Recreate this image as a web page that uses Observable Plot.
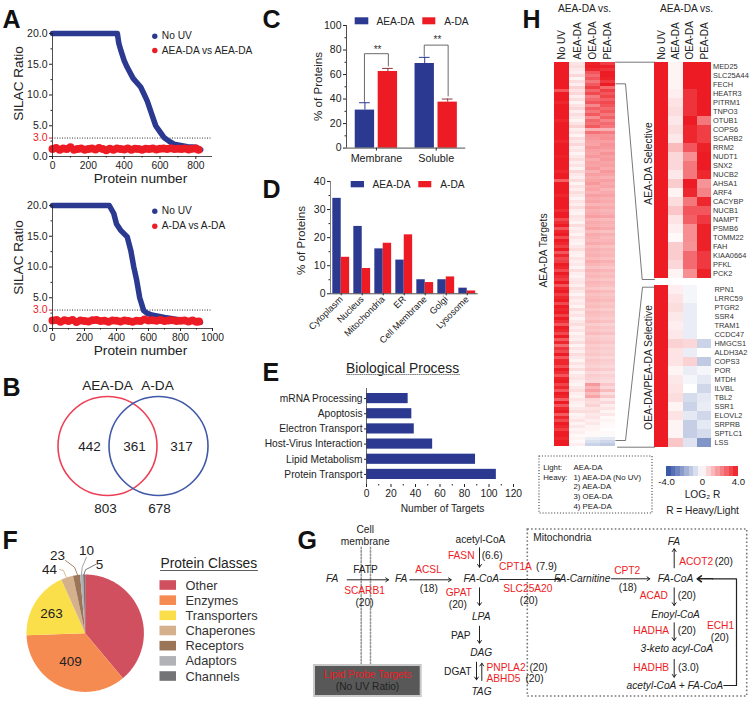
<!DOCTYPE html>
<html><head><meta charset="utf-8">
<script src="https://cdn.jsdelivr.net/npm/d3@7"></script>
<script src="https://cdn.jsdelivr.net/npm/@observablehq/plot@0.6"></script>
<style>html,body{margin:0;padding:0;background:#fff}#page{position:relative;width:750px;height:701px;overflow:hidden}
#page svg,#page svg text{font-family:"Liberation Sans",Arial,sans-serif !important}</style>
</head><body><div id="page"></div>
<script>
// ---------- data ----------
const a1BlueX=[0,100,200,300,362,370,382,400,417,450,492,510,529,550,576,600,622,650,678,715,752,800,827];
const a1BlueY=[20,20,20,20,20,18.4,17.2,15.6,14.5,12.7,11.3,10.2,9,7.2,5,4,3.1,2.5,2,1.8,1.6,1.5,1.1];
const a1RedX=[0,20,40,60,80,100,120,140,160,180,200,220,240,260,280,300,320,340,360,380,400,420,440,460,480,500,520,540,560,580,600,620,640,660,680,700,720,740,760,780,800,815];
const a1RedY=[1.2,1.4,1.1,1.3,1.2,1.5,1.1,1.2,1.3,1.1,1.2,1.3,1.15,1.4,1.2,1.0,1.25,1.1,1.3,1.2,1.15,1.3,1.1,1.25,1.2,1.1,1.25,1.2,1.3,1.15,1.25,1.3,1.2,1.35,1.2,1.25,1.2,1.3,1.15,1.25,1.3,1.1];
const a2BlueX=[0,100,200,300,355,383,400,425,467,490,508,525,545,570,590,620,700,800,925];
const a2BlueY=[20,20,20,20,20,18.7,17,16,14.9,12.6,10,8,5,2.9,2.5,2.2,1.8,1.4,1.0];
const a2RedX=[0,25,50,75,100,125,150,175,200,225,250,275,300,325,350,375,400,425,450,475,500,525,550,575,600,625,650,675,700,725,750,775,800,825,850,875,900,915];
const a2RedY=[1.3,1.4,1.1,1.35,1.2,1.4,1.05,1.3,1.2,1.15,1.35,1.4,1.2,1.25,1.1,1.3,1.25,1.15,1.3,1.2,1.1,1.25,1.2,1.45,1.3,1.35,1.25,1.4,1.2,1.3,1.35,1.2,1.25,1.3,1.15,1.3,1.1,1.15];
const cGroups=["Membrane","Soluble"];
const cSeries=["AEA-DA","A-DA"];
const cMeans=[[31,62.5],[69,37.5]];
const cErrTop=[[37,65],[74,40]];
const dCats=["Cytoplasm","Nucleus","Mitochondria","ER","Cell Membrane","Golgi","Lysosome"];
const dAEA=[34,24,16,12,5,5,2];
const dADA=[13,9,18,21,4,6,1];
const eCats=["mRNA Processing","Apoptosis","Electron Transport","Host-Virus Interaction","Lipid Metabolism","Protein Transport"];
const eVals=[34,37,39,54,89,106];
const vennCounts=["442","361","317"];
const vennTotals=["803","678"];
const pieNames=["Other","Enzymes","Transporters","Chaperones","Receptors","Adaptors","Channels"];
const pieDegrees=[140,128,68,12,7,3,2]; // slice sweep as drawn in the picture
const pieCounts=["","409","263","44","23","10","5"];
const pieColors=["#d0505f","#f68b52","#fbdf4a","#d5b08c","#9a7558","#b0b2b5","#737476"];
const hCols=["No UV","AEA-DA","OEA-DA","PEA-DA"];
const hNoUV=[4,4,4,4,4,4,4,4,4,3,4,4,4,3.8,4,4,
4,4,4,3.8,4,4,4,4,4,4,3.8,4,4,4,4,3.9,
4,4,4,4,3.8,4,4,2.8,4,4,4,4,3.8,4,4,4,
4,3.7,4,4,3.2,3.7,4,3,3.8,4,3.2,4,3.8,3.4,4,3,
3.8,3.2,3.4,4,3.8,3.2,4,3.7,3.4,4,3,3.8,4,3.4,3.8,4,
3.2,4,3.8,4,3.3,4,3.7,3,4,3.8,3.2,4,2.9,3.8,2.6,3.6,
3.2,4,3,3.8,3.8,3.2,4,3.7,3,3.9,4,3.3,3.8,3,4,3.8,
2.8,4,3,3.8,4,2.9,3.8,3.2,4,3.8,3.4,4,4,3.8,4,4];
const hAEA=[.5,.6,.4,.3,.7,.2,.6,.3,.8,.5,.7,.3,.6,.2,.5,.7,
.3,.6,.4,.2,.5,.8,.3,.5,.2,.6,.4,.7,.3,.5,.2,.4,
.6,.3,.5,.2,.7,.4,.3,.6,.2,.5,.3,.6,.4,.2,.5,.3,
.6,.3,.2,.5,.4,.2,.6,.3,.4,.2,.5,.3,.2,.4,.6,.3,
.2,.5,.3,.4,.2,.6,.3,.2,.4,.5,.3,.6,.4,.2,.5,.3,
.4,.2,.6,.3,.5,.2,.4,.6,.3,.5,.2,.4,.3,.6,.2,.5,
.3,.6,.4,.2,.5,.3,.6,.2,.4,.5,.3,.2,.4,.6,.3,.2,
.5,.3,.2,.4,.6,.2,.3,.5,.2,.4,.2,.3,.1,.2,.1,.3];
const hOEA=[3.9,4,3.8,3,2.6,3,2.4,2.9,3.4,2.7,3.2,2.3,2.6,3,2.1,2.8,
2.4,2.9,2,2.7,2.5,2.9,1.4,2.5,1.9,1.8,1.7,1.6,1.9,1.7,1.6,1.8,
1.5,1.7,1.6,1.8,1.4,1.7,1.5,1.6,1.8,1.5,1.6,1.4,1.7,1.5,1.6,1.3,
1.6,1.4,1.5,1.7,1.3,1.5,1.4,1.6,1.2,1.5,1.4,1.3,1.5,1.2,1.4,1.3,
1.4,1.2,1.5,1.3,1.1,1.4,1.2,1.3,1.1,1.3,1.2,1,1.3,1.1,1.2,1.3,
1.1,1.2,1,1.2,1.1,1,1.2,.9,1.1,1,1.2,.9,1,1.1,.9,1,
.9,1,.8,1,.9,.8,1,.7,.9,.8,.7,1.8,1.3,1.7,1.2,1.6,
.7,.6,.8,.5,.6,.4,.5,.3,.4,.2,.2,.1,.1,-.4,-.7,-1];
const hPEA=[3.4,3.9,3.6,4,4,3.9,3.5,4,2.6,3.4,3,3.3,2.8,3.2,3,2.6,
2.9,2.4,2.8,2.2,2.6,2.4,1.4,2.3,1.9,2,1.7,1.9,1.8,1.6,1.9,1.7,
1.8,1.6,1.7,1.5,1.8,1.6,1.4,1.7,1.5,1.6,1.3,1.5,1.6,1.4,1.5,1.3,
1.5,1.3,1.4,1.6,1.2,1.4,1.3,1.5,1.1,1.4,1.2,1.3,1.4,1.1,1.3,1.2,
1.3,1.1,1.4,1.2,1,1.3,1.1,1.2,1,1.2,1.1,.9,1.2,1,1.1,1.2,
1,1.1,.9,1.1,1,.9,1.1,.8,1,.9,1.1,.8,.9,1,.8,.9,
.8,.9,.7,.9,.8,.7,.9,.6,.8,.7,.6,1,.7,1.2,.6,1,
.4,.7,.3,.5,.2,.4,.1,.2,.1,.1,0,.1,-.1,-.5,-.9,-1.2];
const selGenes=["MED25","SLC25A44","FECH","HEATR3","PITRM1","TNPO3","OTUB1","COPS6","SCARB2","RRM2","NUDT1","SNX2","NUCB2","AHSA1","ARF4","CACYBP","NUCB1","NAMPT","PSMB6","TOMM22","FAH","KIAA0664","PFKL","PCK2"];
const selAEA=[.2,.2,.2,.3,.5,.6,.4,.6,.4,1.2,.7,.7,.4,.9,.2,.6,1,.5,.3,.1,.9,.9,.7,.2];
const selOEA=[4,4,4,3.6,3.6,3.6,4,3.8,3.8,3,2,2.4,2.4,4,3.8,2.4,3,2.8,2,2,1.9,2.6,2.6,2];
const selPEA=[4,4,4,4,4,4,2.4,3.4,3.4,3.9,4,4,3.8,1.9,2.2,3.8,3,3.5,3.9,3.9,3.9,3.5,3.5,3.9];
const othGenes=["RPN1","LRRC59","PTGR2","SSR4","TRAM1","CCDC47","HMGCS1","ALDH3A2","COPS3","POR","MTDH","ILVBL","TBL2","SSR1","ELOVL2","SRPRB","SPTLC1","LSS"];
const othAEA=[.3,.5,.6,.4,.3,.4,.8,.5,.5,.2,.4,.5,.6,.2,.5,.2,.2,1];
const othOEA=[-.2,-.2,-.4,-.4,-.4,-.4,.7,-.4,.8,-.4,-.2,0,-.8,-1,-.5,-1.1,-1.1,-.6];
const othPEA=[0,0,0,0,0,0,-1,0,-1.2,-.2,-.5,-.9,-.5,-.4,-.9,-.5,-.8,-2.4];
const rampStops=[-4,-3.5,-3,-2.5,-2,-1.5,-1,-.5,0,.5,1,1.5,2,2.5,3,3.5];

// ---------- shared style ----------
const BLUE="#2b3990",RED="#ed1c24",INK="#222";
const font='"Liberation Sans",Arial,sans-serif';
const host=document.getElementById("page");
const heatColor={type:"linear",domain:[-4,0,4],range:["#2f4ea2","#ffffff","#ed1c24"],clamp:true};
function panel(frame,opts){
  const [l,t,w,h]=frame;
  host.append(Plot.plot({width:w,height:h,marginTop:0,marginRight:0,marginBottom:0,marginLeft:0,
    style:{position:"absolute",left:l+"px",top:t+"px",overflow:"visible",background:"transparent",fontFamily:font,color:INK},...opts}));
}
const axisLine={stroke:INK,strokeWidth:.8};
const fmt1=d=>d.toFixed(1);
const txt=(rows,o={})=>Plot.text(rows,{x:r=>r[1],y:r=>r[2],text:r=>r[0],fontSize:10.2,fill:INK,...o});

// ---------- A ----------
function silac(frame,domainX,ticksX,minorX,blueX,blueY,redX,redY){
  panel(frame,{x:{domain:domainX},y:{domain:[0,20]},marks:[
    Plot.ruleY([3],{stroke:"#333",strokeWidth:1,strokeDasharray:"1,1.5"}),
    Plot.line(blueX.map((x,i)=>({x,y:blueY[i]})),{x:"x",y:"y",stroke:BLUE,strokeWidth:5.5,strokeLinecap:"round",strokeLinejoin:"round"}),
    Plot.dot(redX.map((x,i)=>({x,y:redY[i]})),{x:"x",y:"y",r:4,fill:RED}),
    Plot.ruleX([0],axisLine),Plot.ruleY([0],axisLine),
    Plot.axisX({ticks:ticksX,tickSize:3,tickPadding:2,fontSize:10.3,tickFormat:d=>String(d),label:null}),
    Plot.axisX({ticks:minorX,tickSize:1.5,tickFormat:()=>"",label:null}),
    Plot.axisY({ticks:[0,5,10,15,20],tickSize:3,tickPadding:2,fontSize:10.5,tickFormat:fmt1,label:null}),
    Plot.axisY({ticks:[2.5,7.5,12.5,17.5],tickSize:1.5,tickFormat:()=>"",label:null}),
    Plot.axisY({ticks:[3],tickSize:3,tickPadding:2,fontSize:10.5,tickFormat:fmt1,color:RED,label:null})
  ]});
}
silac([52,32.7,160,123],[0,893],[0,200,400,600,800],[100,300,500,700],a1BlueX,a1BlueY,a1RedX,a1RedY);
silac([52,205,160,123],[0,1000],[0,200,400,600,800,1000],[100,300,500,700,900],a2BlueX,a2BlueY,a2RedX,a2RedY);

// ---------- C ----------
const cRows=cGroups.flatMap((g,gi)=>cSeries.map((s,si)=>({g:gi,off:si?.192:-.192,s,v:cMeans[gi][si],e:cErrTop[gi][si]})));
const cFill=d=>d.s==="A-DA"?RED:BLUE;
panel([345.7,24.7,119.3,122.6],{x:{domain:[-.5,1.495]},y:{domain:[0,100]},color:{type:"identity"},marks:[
  Plot.ruleX(cRows,{x:d=>d.g+d.off,y1:"v",y2:"e",stroke:d=>d.s==="A-DA"?"#8a3a40":BLUE,strokeWidth:1}),
  Plot.ruleY(cRows,{y:"e",x1:d=>d.g+d.off-.09,x2:d=>d.g+d.off+.09,stroke:d=>d.s==="A-DA"?"#8a3a40":BLUE,strokeWidth:1}),
  Plot.rectY(cRows,{x1:d=>d.g+d.off-.162,x2:d=>d.g+d.off+.162,y1:0,y2:"v",fill:cFill}),
  Plot.line([[-.2,38],[-.2,77],[.2,77],[.2,67]],{x:d=>d[0],y:d=>d[1],stroke:"#444",strokeWidth:.8}),
  Plot.line([[.8,75],[.8,84],[1.2,84],[1.2,42.5]],{x:d=>d[0],y:d=>d[1],stroke:"#444",strokeWidth:.8}),
  Plot.text([[0.02,80],[1.02,88]],{x:d=>d[0],y:d=>d[1],text:()=>"**",fontSize:10,fill:"#333"}),
  Plot.ruleX([-.5],axisLine),Plot.ruleY([0],axisLine),
  Plot.axisX({ticks:[0,1],tickSize:3,tickPadding:3,fontSize:10.8,tickFormat:i=>cGroups[i],label:null}),
  Plot.axisY({ticks:[0,20,40,60,80,100],tickSize:3,tickPadding:2,fontSize:10.5,label:null}),
  Plot.axisY({ticks:[10,30,50,70,90],tickSize:1.5,tickFormat:()=>"",label:null})
]});

// ---------- D ----------
const dRows=dCats.flatMap((c,i)=>[{i,s:0,v:dAEA[i]},{i,s:1,v:dADA[i]}]);
panel([330,181,147.7,112.3],{x:{domain:[-.51,6.52]},y:{domain:[0,40]},color:{type:"identity"},marks:[
  Plot.rectY(dRows,{x1:d=>d.i-.4+d.s*.4,x2:d=>d.i+d.s*.4,y1:0,y2:"v",fill:d=>d.s?RED:BLUE}),
  Plot.ruleX([-.51],{stroke:"#666",strokeWidth:.8}),Plot.ruleY([0],axisLine),
  Plot.axisX({ticks:[0,1,2,3,4,5,6],tickSize:2,tickPadding:2,tickRotate:-45,fontSize:9.2,textAnchor:"end",tickFormat:i=>dCats[i],label:null}),
  Plot.axisY({ticks:[0,10,20,30,40],tickSize:3,tickPadding:2,fontSize:10.5,label:null}),
  Plot.axisY({ticks:[5,15,25,35],tickSize:1.5,tickFormat:()=>"",label:null})
]});

// ---------- E ----------
panel([366.3,388,147,96],{x:{domain:[0,120]},y:{domain:eCats,padding:.33,round:false},marks:[
  Plot.barX(eCats.map((c,i)=>({c,v:eVals[i]})),{x:"v",y:"c",fill:BLUE}),
  Plot.ruleX([0],{stroke:"#444",strokeWidth:.8}),Plot.ruleY([0],{stroke:"#999",strokeWidth:1.2}),
  Plot.axisX({ticks:[0,20,40,60,80,100,120],tickSize:3,tickPadding:2,fontSize:10.3,label:null}),
  Plot.axisX({ticks:[10,30,50,70,90,110],tickSize:1.5,tickFormat:()=>"",label:null}),
  Plot.axisY({tickSize:2,tickPadding:2,fontSize:10.2,label:null})
]});

// ---------- F ----------
const piePts=[];let a0=0;
pieNames.forEach((name,k)=>{
  const a1=a0+pieDegrees[k];
  piePts.push({name,x:0,y:0});
  for(let a=a0;a<=a1;a+=Math.min(1,pieDegrees[k]/4)){const t=a*Math.PI/180;piePts.push({name,x:Math.sin(t),y:Math.cos(t)});}
  const t=a1*Math.PI/180;piePts.push({name,x:Math.sin(t),y:Math.cos(t)});
  a0=a1;
});
panel([26,574,117.4,117.4],{x:{domain:[-1,1],axis:null},y:{domain:[-1,1],axis:null},color:{domain:pieNames,range:pieColors},marks:[
  Plot.line(piePts,{x:"x",y:"y",z:"name",fill:"name",stroke:null,curve:"linear"})
]});

// ---------- H ----------
const hRows=hNoUV.flatMap((v,i)=>[[0,v],[1,hAEA[i]],[2,hOEA[i]],[3,hPEA[i]]].map(([c,w])=>({r:i,c:hCols[c],v:w})));
panel([554,62,61.3,384],{x:{domain:hCols,padding:0,round:false},y:{domain:d3.range(hNoUV.length),padding:0,round:false,axis:null},color:heatColor,marks:[
  Plot.cell(hRows,{x:"c",y:"r",fill:"v",shapeRendering:"crispEdges"}),
  Plot.axisX({anchor:"top",tickSize:0,tickPadding:3,tickRotate:-90,fontSize:10,label:null})
]});
const geneRows=(genes,aea,oea,pea)=>genes.flatMap((g,i)=>[[0,4],[1,aea[i]],[2,oea[i]],[3,pea[i]]].map(([c,w])=>({g,c:hCols[c],v:w})));
panel([654.3,62,57,216],{x:{domain:hCols,padding:0,round:false},y:{domain:selGenes,padding:0,round:false},color:heatColor,marks:[
  Plot.cell(geneRows(selGenes,selAEA,selOEA,selPEA),{x:"c",y:"g",fill:"v",shapeRendering:"crispEdges"}),
  Plot.axisX({anchor:"top",tickSize:0,tickPadding:3,tickRotate:-90,fontSize:10,label:null}),
  Plot.axisY({anchor:"right",tickSize:0,tickPadding:1.5,fontSize:7.4,fill:"#333",label:null})
]});
panel([654.3,284.7,57,162],{x:{domain:hCols,padding:0,round:false,axis:null},y:{domain:othGenes,padding:0,round:false},color:heatColor,marks:[
  Plot.cell(geneRows(othGenes,othAEA,othOEA,othPEA),{x:"c",y:"g",fill:"v",shapeRendering:"crispEdges"}),
  Plot.axisY({anchor:"right",tickSize:0,tickPadding:3,fontSize:7.4,fill:"#333",label:null})
]});
panel([666,466,72,9.7],{x:{domain:[-4,4]},y:{domain:[0,1],axis:null},color:heatColor,marks:[
  Plot.rect(rampStops,{x1:d=>d,x2:d=>d+.5,y1:0,y2:1,fill:d=>d+.25,shapeRendering:"crispEdges"}),
  Plot.axisX({ticks:[-4,0,4],tickSize:0,tickPadding:2,fontSize:9.6,tickFormat:d=>d===0?"0":d.toFixed(1),label:null})
]});

// ---------- page overlay: headings, legends, Venn, pathway G ----------
const letters=[["A",2,22],["B",2,390.5],["C",262,22],["D",262,192],["E",262,375],["F",2,543],["G",297,543],["H",522,22]];
const dark=[
 ["No UV",161.3,35.7,{a:"start"}],["AEA-DA vs AEA-DA",161.3,50,{a:"start"}],["No UV",161.3,210.7,{a:"start"}],["A-DA vs A-DA",161.3,225.7,{a:"start"}],
 ["AEA-DA",376,21,{a:"start"}],["A-DA",443.7,21,{a:"start"}],["AEA-DA",372,184,{a:"start"}],["A-DA",439.7,184,{a:"start"}],
 ["Number of Targets",442,508],
 ["LOG₂ R",702,494],["R = Heavy/Light",702,510],
 ["AEA-DA vs.",584,8],["AEA-DA vs.",686,8],
 ["Cell",364.7,529],["membrane",364.7,541.7],["FATP",365,569],["(20)",364,602.7],["(18)",428.3,588],["acetyl-CoA",480,539.3],["(6.6)",491.7,555],["(20)",457.3,604.3],["PAP",460.3,635],["DGAT",457.3,671.3],["(20)",538,667.7],["(20)",534,678.3],
 ["(7.9)",546,566.7],["(20)",528.3,600.7],["(18)",627.3,587.7],["(20)",723.3,561],["(20)",686.3,595.7],["(20)",686.3,630],["(3.0)",688,667],["(20)",719.3,637],["Mitochondria",532.7,537.7,{a:"start"}],
 ["(No UV Ratio)",367,686.7]
];
const keyText=[["Light:",542.7,466.7],["AEA-DA",573,466.7],["Heavy:",542.7,476.5],["1) AEA-DA (No UV)",573,476.5],["2) AEA-DA",573,486.3],["3) OEA-DA",573,496.2],["4) PEA-DA",573,506]];
const ital=[["FA",331.7,578],["FA",400.7,578],["FA-CoA",480.7,578.3],["LPA",480.7,616],["DAG",480.7,652.3],["TAG",481,691.3],["FA-Carnitine",581.7,578.3],["FA-CoA",675,578.3],["FA",673.3,541],["Enoyl-CoA",675,614],["3-keto acyl-CoA",676.3,648.3],["acetyl-CoA + FA-CoA",674.3,685]];
const reds=[["SCARB1",364,590],["ACSL",428,569],["FASN",460.7,555],["GPAT",458.3,592],["PNPLA2",486,667.3,{a:"start"}],["ABHD5",486,678.3,{a:"start"}],["CPT1A",515,566.7],["SLC25A20",527.3,588.3],["CPT2",626.7,570.7],["ACOT2",695.7,561],["ACAD",653.3,595.7],["HADHA",650.7,630.3],["HADHB",650.7,667.3],["ECH1",720,625.3],["Lipid Probe Targets",367,674]];
const arrows=[[346.7,579.3,388,579.3],[409.3,579.3,450.7,579.3],[479,547.3,479,566.7],[479,587.3,479,605],[479,625.7,479,642.7],[476,661.7,476,679.3],[481.3,680,481.3,662.7],[499.3,579,560,579],[611,578.3,649.3,578.3],[673.7,567.3,673.7,548.3],[673.7,587.3,673.7,605],[673.7,622.3,673.7,640],[673.7,659,673.7,676.7]];
const connectors=[[[615,61.7],[654,61.7]],[[615.3,83.3],[625,83.3],[641.7,279],[654,279]],[[615.3,440],[625,440],[642,286.7],[654,286.7]],[[617,446.7],[654,446.7]]];
const leaders=[[[59,569],[63,570],[65.7,576.5],"#d5b08c"],[[65,560],[74,566.7],[77.3,575],"#9a7558"],[[86,556.7],[81.7,566.7],[81,574.3],"#999"],[[95,564],[85,569.3],[83.3,574.3],"#666"]];
const seg=(pts,o)=>Plot.line(pts,{x:d=>d[0],y:d=>d[1],...o});
const legendRows=pieNames.map((n,i)=>({n,c:pieColors[i],y:585+i*15.17}));
const dotRows=[[154.3,35.7,BLUE],[154.3,50,RED],[154.3,210.7,BLUE],[154.3,225.7,RED]];
const swatches=[[354.7,368.3,17.3,24.3,BLUE],[422.3,435.3,17.3,24.3,RED],[350.7,364,181,187.3,BLUE],[418.3,431.3,181,187.3,RED]];
const byAnchor=(rows,o)=>["start","middle"].map(an=>txt(rows.filter(r=>((r[3]&&r[3].a)||"middle")===an),{textAnchor:an,...o}));
host.append(Plot.plot({width:750,height:701,marginTop:0,marginRight:0,marginBottom:0,marginLeft:0,
  x:{domain:[0,750],range:[0,750],axis:null},y:{domain:[0,701],range:[0,701],axis:null},color:{type:"identity"},
  style:{position:"absolute",left:"0",top:"0",background:"transparent",fontFamily:font,color:INK},
  marks:[
  txt([["SILAC Ratio",18.3,83],["SILAC Ratio",18.3,257]],{rotate:-90,fontSize:13.5}),
  txt([["Protein number",140,178],["Protein number",140,350]],{fontSize:13.7}),
  Plot.dot(dotRows,{x:d=>d[0],y:d=>d[1],r:2.7,fill:d=>d[2]}),
  Plot.rect(swatches,{x1:d=>d[0],x2:d=>d[1],y1:d=>d[2],y2:d=>d[3],fill:d=>d[4]}),
  txt([["% of Proteins",318,86],["% of Proteins",300.7,240]],{rotate:-90,fontSize:11.6}),
  txt([["Biological Process",402,368]],{fontSize:13.85}),
  seg([[346,374],[459,374]],{stroke:"#888",strokeWidth:1,strokeDasharray:"1,1.2"}),
  Plot.dot([[107,445.5,"#ed4056"],[158,445.5,"#4059a8"]],{x:d=>d[0],y:d=>d[1],r:49.5,fill:"none",stroke:d=>d[2],strokeWidth:1.6}),
  txt([["AEA-DA",107,385],["A-DA",157,385]],{fontSize:13.6}),
  txt([[vennCounts[0],89,446],[vennCounts[1],134,446],[vennCounts[2],181,446],[vennTotals[0],105,508],[vennTotals[1],159,508]],{fontSize:13.5}),
  txt([[pieCounts[2],51,613],[pieCounts[1],70,661],[pieCounts[3],49,569],[pieCounts[4],57,555],[pieCounts[5],86,550],[pieCounts[6],99,564]],{fontSize:13.5}),
  ...leaders.map(l=>seg(l.slice(0,3),{stroke:l[3],strokeWidth:.9})),
  txt([["Protein Classes",160,563]],{textAnchor:"start",fontSize:13.8}),
  seg([[160,570],[257,570]],{stroke:"#333",strokeWidth:.8}),
  Plot.rect(legendRows,{x1:159.5,x2:176,y1:d=>d.y-4.8,y2:d=>d.y+4.8,fill:"c"}),
  Plot.text(legendRows,{x:185,y:"y",text:"n",textAnchor:"start",fontSize:12.8,fill:"#333"}),
  txt([["AEA-DA Targets",543,250],["AEA-DA Selective",648,163],["OEA-DA/PEA-DA Selective",648,367]],{rotate:-90,fontSize:10.3}),
  ...connectors.map(c=>seg(c,{stroke:"#555",strokeWidth:.8})),
  Plot.rect([0],{x1:539,x2:652,y1:456,y2:513,fill:"none",stroke:"#444",strokeWidth:1.1,strokeDasharray:"1.1,1.8"}),
  txt(keyText,{textAnchor:"start",fontSize:7.8}),
  Plot.rect([0],{x1:527.3,x2:746.7,y1:529,y2:696,fill:"none",stroke:"#777",strokeWidth:1.6,strokeDasharray:"1.6,2.2"}),
  seg([[360.7,546.7],[360.7,663]],{stroke:"#999",strokeWidth:1.6,strokeDasharray:"1.6,1.8"}),
  seg([[370,546.7],[370,663]],{stroke:"#999",strokeWidth:1.6,strokeDasharray:"1.6,1.8"}),
  Plot.rect([0],{x1:314,x2:420.7,y1:665,y2:696,fill:"#585858",stroke:"#c8c8c8",strokeWidth:2}),
  Plot.arrow(arrows,{x1:d=>d[0],y1:d=>d[1],x2:d=>d[2],y2:d=>d[3],stroke:"#222",strokeWidth:1,headLength:5,headAngle:70,bend:0}),
  seg([[723.3,685],[736,685],[736,578.3],[712,578.3]],{stroke:"#222",strokeWidth:1.2}),
  Plot.arrow([[712,578.3,696.7,578.3]],{x1:d=>d[0],y1:d=>d[1],x2:d=>d[2],y2:d=>d[3],stroke:"#222",strokeWidth:1.6,headLength:7,headAngle:70,bend:0}),
  ...byAnchor(dark,{}),
  ...byAnchor(ital,{fontStyle:"italic"}),
  ...byAnchor(reds,{fill:RED}),
  txt(letters,{fontSize:25,fontWeight:"bold",textAnchor:"start",fill:"#111",lineAnchor:"bottom",dy:5})
]}));
</script></body></html>
